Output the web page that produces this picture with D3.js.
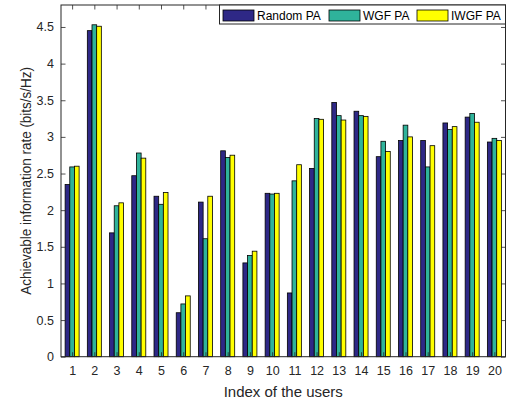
<!DOCTYPE html>
<html>
<head>
<meta charset="utf-8">
<script src="https://cdn.jsdelivr.net/npm/d3@7"></script>
<style>
  html, body { margin: 0; padding: 0; background: #fff; }
  svg { display: block; font-family: "Liberation Sans", Arial, Helvetica, sans-serif; }
</style>
</head>
<body>
<svg id="chart" width="516" height="408"></svg>
<script>
// User indices and achievable rate (bits/s/Hz) per power-allocation scheme
const users = d3.range(1, 21);
const seriesNames = ["Random PA", "WGF PA", "IWGF PA"];
const randomPA = [2.35, 4.45, 1.69, 2.47, 2.19, 0.60, 2.11, 2.81, 1.28, 2.23,
                  0.87, 2.57, 3.47, 3.35, 2.73, 2.95, 2.95, 3.19, 3.27, 2.93];
const wgfPA    = [2.59, 4.53, 2.06, 2.78, 2.08, 0.72, 1.61, 2.72, 1.38, 2.22,
                  2.40, 3.25, 3.29, 3.29, 2.94, 3.16, 2.59, 3.10, 3.32, 2.98];
const iwgfPA   = [2.60, 4.51, 2.10, 2.71, 2.24, 0.83, 2.19, 2.75, 1.44, 2.23,
                  2.62, 3.24, 3.23, 3.28, 2.80, 3.00, 2.88, 3.14, 3.20, 2.95];
const yTicks = [0, 0.5, 1, 1.5, 2, 2.5, 3, 3.5, 4, 4.5];
const colors = ["#2e2886", "#2fb39b", "#ffff00"];

const series = [randomPA, wgfPA, iwgfPA];
const axisColor = "#262626";

const svg = d3.select("#chart");
const plot = { left: 61, top: 5, right: 505.5, bottom: 356.7 };

const x = d3.scaleLinear().domain([0.5, 20.5]).range([plot.left, plot.right]);
const y = d3.scaleLinear().domain([0, 4.8]).range([plot.bottom, plot.top]);

const barW = 0.21; // bar width in x units; bars in a group sit side by side
const offsets = [-barW, 0, barW];

// bars
series.forEach((vals, s) => {
  svg.append("g")
    .selectAll("rect")
    .data(vals)
    .join("rect")
    .attr("x", (d, i) => x(users[i] + offsets[s] - barW / 2))
    .attr("width", x(barW) - x(0))
    .attr("y", d => y(d))
    .attr("height", d => y(0) - y(d))
    .attr("fill", colors[s])
    .attr("stroke", "#000")
    .attr("stroke-width", 0.8);
});

// axes (ticks point inward, box on all four sides)
const tickLen = 4.5;
const gx = svg.append("g").attr("transform", `translate(0,${plot.bottom})`)
  .call(d3.axisBottom(x).tickValues(users).tickSize(-tickLen).tickPadding(9).tickFormat(d3.format("d")));
const gxTop = svg.append("g").attr("transform", `translate(0,${plot.top})`)
  .call(d3.axisTop(x).tickValues(users).tickSize(-tickLen).tickFormat(""));
const gy = svg.append("g").attr("transform", `translate(${plot.left},0)`)
  .call(d3.axisLeft(y).tickValues(yTicks).tickSize(-tickLen).tickPadding(7).tickFormat(d => String(d)));
const gyRight = svg.append("g").attr("transform", `translate(${plot.right},0)`)
  .call(d3.axisRight(y).tickValues(yTicks).tickSize(-tickLen).tickFormat(""));

[gx, gxTop, gy, gyRight].forEach(g => {
  g.select(".domain").remove();
  g.selectAll(".tick line").attr("stroke", axisColor).attr("stroke-width", 0.8);
  g.selectAll(".tick text").attr("fill", axisColor).attr("font-size", 12.5)
    .attr("font-family", "Liberation Sans, Arial, sans-serif");
});

svg.append("rect")
  .attr("x", plot.left).attr("y", plot.top)
  .attr("width", plot.right - plot.left).attr("height", plot.bottom - plot.top)
  .attr("fill", "none").attr("stroke", axisColor).attr("stroke-width", 1);

// axis titles
svg.append("text")
  .attr("x", (plot.left + plot.right) / 2).attr("y", 397)
  .attr("text-anchor", "middle").attr("font-size", 15).attr("fill", axisColor)
  .text("Index of the users");

svg.append("text")
  .attr("transform", `translate(30.5,${(plot.top + plot.bottom) / 2}) rotate(-90) scale(0.9,1)`)
  .attr("text-anchor", "middle").attr("font-size", 15).attr("fill", axisColor)
  .text("Achievable information rate (bits/s/Hz)");

// legend
const legend = svg.append("g");
legend.append("rect")
  .attr("x", 219.5).attr("y", plot.top).attr("width", plot.right - 219.5).attr("height", 19)
  .attr("fill", "#fff").attr("stroke", axisColor).attr("stroke-width", 1);
const legendX = [223, 329, 417];
seriesNames.forEach((name, s) => {
  legend.append("rect")
    .attr("x", legendX[s]).attr("y", 10).attr("width", 31).attr("height", 11)
    .attr("fill", colors[s]).attr("stroke", "#000").attr("stroke-width", 0.8);
  legend.append("text")
    .attr("x", legendX[s] + 34).attr("y", 20)
    .attr("font-size", 12).attr("fill", "#000")
    .text(name);
});
</script>
</body>
</html>
